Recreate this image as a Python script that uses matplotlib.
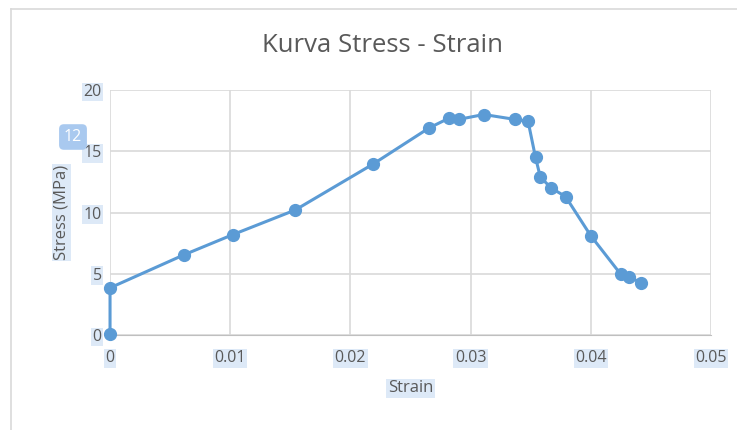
import matplotlib.pyplot as plt

strain = [0.0, 0.0, 0.00616, 0.01023, 0.0154, 0.02188, 0.02654, 0.0282, 0.0290,
          0.0311, 0.03369, 0.03478, 0.0354, 0.0358, 0.0367, 0.0379, 0.0400,
          0.0425, 0.0432, 0.0442]
stress = [0.1, 3.85, 6.55, 8.2, 10.2, 13.95, 16.9, 17.7, 17.6,
          18.0, 17.6, 17.45, 14.5, 12.9, 12.0, 11.3, 8.1,
          4.95, 4.75, 4.25]

xticks = [0, 0.01, 0.02, 0.03, 0.04, 0.05]
xlabels = ["0", "0.01", "0.02", "0.03", "0.04", "0.05"]
yticks = [0, 5, 10, 15, 20]

plt.rcParams['font.family'] = ['Open Sans', 'DejaVu Sans']
txt = '#595959'
hl = '#dde9f7'

fig = plt.figure(figsize=(7.37, 4.3), dpi=100)
ax = fig.add_axes([0.1493, 0.2209, 0.8154, 0.5698])

ax.plot(strain, stress, color='#5b9bd5', lw=2.2, marker='o', ms=8.5,
        markeredgecolor='#5b9bd5', zorder=3, clip_on=False)

ax.set_xlim(0, 0.05)
ax.set_ylim(0, 20)
ax.set_xticks(xticks)
ax.set_xticklabels(xlabels)
ax.set_yticks(yticks)
ax.grid(True, color='#d9d9d9', lw=1.2)
ax.set_axisbelow(True)
for s in ax.spines.values():
    s.set_visible(False)
ax.spines['bottom'].set_visible(True)
ax.spines['bottom'].set_color('#bfbfbf')
ax.tick_params(length=0, labelsize=11.5, labelcolor=txt)
ax.tick_params(axis='x', pad=11)
ax.tick_params(axis='y', pad=6)
for lab in ax.get_xticklabels() + ax.get_yticklabels():
    lab.set_bbox(dict(facecolor=hl, edgecolor='none', pad=1))

fig.text(382/737, 1 - 45/430, "Kurva Stress - Strain", fontsize=18.5, color=txt,
         ha='center', va='center')
ax.set_xlabel("Strain", fontsize=12, color=txt, labelpad=10,
              bbox=dict(facecolor=hl, edgecolor='none', pad=1))
ax.set_ylabel("Stress (MPa)", fontsize=12, color=txt, labelpad=10,
              bbox=dict(facecolor=hl, edgecolor='none', pad=1))

# chart border (left and top)
fig.add_artist(plt.Line2D([11/737, 11/737], [0, 1 - 9/430], color='#d9d9d9', lw=1.2))
fig.add_artist(plt.Line2D([11/737, 1], [1 - 9/430, 1 - 9/430], color='#d9d9d9', lw=1.2))

# selection badge
fig.text(73/737, 1 - 137/430, "12", fontsize=11.5, color='white', ha='center', va='center',
         bbox=dict(boxstyle='round,pad=0.3', facecolor='#a9c9ef', edgecolor='none'))

fig.savefig("out.png", dpi=100, facecolor='white')
